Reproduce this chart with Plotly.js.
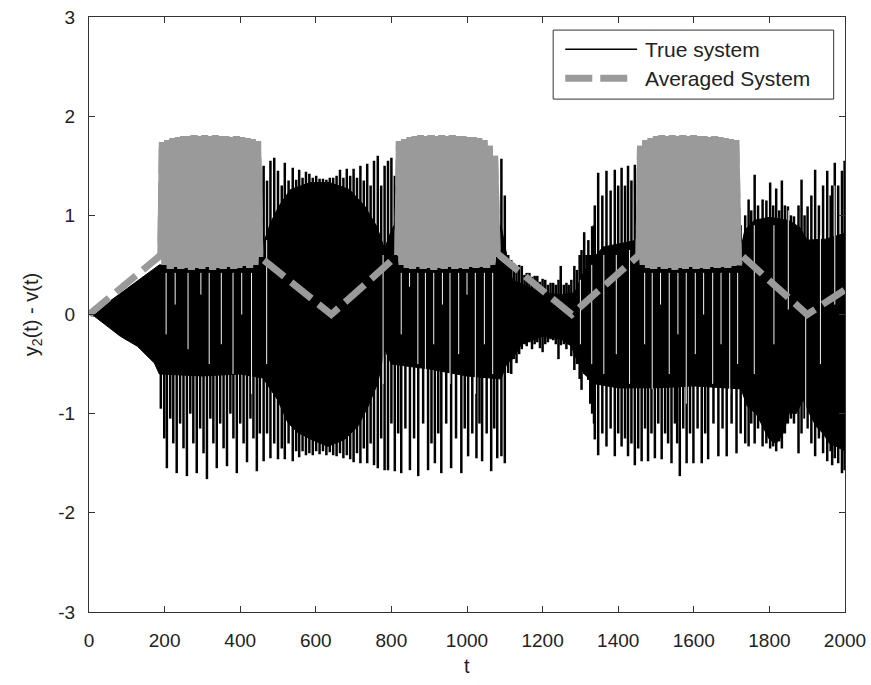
<!DOCTYPE html>
<html>
<head>
<meta charset="utf-8">
<script src="https://cdn.plot.ly/plotly-3.0.1.min.js"></script>
<style>
html,body{margin:0;padding:0;background:#fff;}
#chart{width:871px;height:685px;}
</style>
</head>
<body>
<div id="chart"></div>
<script>
// ---- True system: solid envelope of the dense oscillation ----
const coreHiT = [0,50,100,150,186,300,440,460,481,502,533,585,637,689,730,761,782,800,815,830,1075,1090,1105,1120,1160,1200,1250,1285,1305,1330,1360,1450,1470,1715,1735,1760,1800,1850,1880,1900,1950,2000];
const coreHiY = [0,0.12,0.26,0.4,0.5,0.5,0.5,0.7,0.93,1.09,1.26,1.33,1.33,1.26,1.09,0.89,0.66,0.85,0.95,0.5,0.5,0.9,0.6,0.35,0.28,0.22,0.2,0.22,0.4,0.55,0.68,0.75,0.5,0.5,0.85,0.95,0.98,0.95,0.88,0.75,0.76,0.82];
const coreLoT = [0,15,48,83,128,173,186,200,300,400,460,499,526,552,588,632,676,711,738,764,782,800,900,1000,1090,1105,1120,1144,1200,1250,1276,1290,1310,1340,1400,1500,1600,1725,1742,1765,1783,1800,1818,1836,1853,1871,1889,1906,1924,1942,1959,1977,2000];
const coreLoY = [0,-0.02,-0.12,-0.22,-0.32,-0.49,-0.6,-0.6,-0.62,-0.6,-0.64,-0.86,-1.09,-1.19,-1.26,-1.33,-1.26,-1.13,-0.93,-0.69,-0.35,-0.5,-0.55,-0.62,-0.65,-0.5,-0.45,-0.3,-0.22,-0.25,-0.32,-0.45,-0.6,-0.7,-0.74,-0.74,-0.72,-0.75,-0.93,-1.0,-1.13,-1.26,-1.3,-1.2,-0.99,-1.0,-0.86,-1.0,-1.13,-1.2,-1.3,-1.33,-1.38];

// ---- True system: individual oscillation spikes (t, lowest, highest) ----
const spikeT = [
 190,199,206,215,223,232,241,250,259,268,276,285,294,303,312,321,329,338,347,356,365,374,382,391,400,409,418,427,435,444,452,
 462,471,480,490,500,510,518,528,539,548,556,565,574,583,592,601,610,619,628,637,646,655,664,673,682,691,700,709,718,727,736,745,754,764,773,782,
 791,800,809,818,826,837,849,860,871,884,897,906,915,924,932,945,958,971,985,994,1003,1014,1025,1033,1040,1052,1064,1072,1080,1091,1100,
 1109,1117,1124,1131,1138,1145,1152,1158,1165,1172,1179,1186,1193,1200,1207,1214,1221,1228,1235,1242,1248,1256,1263,1269,1276,1284,1291,1298,1303,1310,1316,1321,1326,1331,1336,
 1338,1347,1358,1369,1380,1391,1400,1409,1418,1426,1435,1444,1453,
 1462,1471,1479,1488,1497,1506,1515,1524,1532,1541,1550,1556,1563,1572,1581,1590,1599,1610,1621,1630,1638,1652,1665,1676,1687,1700,1713,1724,1736,
 1745,1752,1761,1770,1782,1792,1802,1810,1818,1826,1833,1841,1849,1857,1865,1877,1885,1893,1901,1911,1921,1931,1942,1953,1962,1966,1973,1982,1992,1999];
const spikeLo = [
 -0.95,-1.25,-1.55,-1.05,-1.3,-1.6,-1.1,-1.35,-1.63,-1.0,-1.3,-1.6,-1.15,-1.4,-1.66,-1.05,-1.3,-1.55,-1.1,-1.35,-1.53,-1.0,-1.25,-1.6,-1.1,-1.3,-1.49,-1.05,-1.25,-1.58,-1.2,
 -1.48,-1.2,-1.45,-1.3,-1.46,-1.35,-1.46,-1.3,-1.48,-1.38,-1.44,-1.38,-1.42,-1.4,-1.42,-1.38,-1.41,-1.38,-1.42,-1.39,-1.42,-1.43,-1.4,-1.45,-1.42,-1.46,-1.49,-1.4,-1.5,-1.35,-1.5,-1.3,-1.52,-1.55,-1.25,-1.57,
 -1.57,-1.1,-1.58,-1.2,-1.6,-1.15,-1.57,-1.25,-1.63,-1.1,-1.57,-1.3,-1.5,-1.2,-1.6,-1.1,-1.55,-1.25,-1.6,-1.15,-1.43,-1.2,-1.45,-1.1,-1.48,-1.2,-1.58,-1.15,-1.45,-1.43,-1.5,
 -0.59,-0.6,-0.45,-0.49,-0.4,-0.35,-0.3,-0.32,-0.28,-0.35,-0.3,-0.28,-0.34,-0.38,-0.3,-0.28,-0.25,-0.26,-0.3,-0.45,-0.31,-0.3,-0.35,-0.3,-0.42,-0.56,-0.5,-0.65,-0.76,-0.6,-0.55,-0.66,-0.9,-1.0,-1.1,
 -1.26,-1.42,-1.2,-1.33,-1.15,-1.43,-1.2,-1.33,-1.25,-1.43,-1.3,-1.52,-1.35,
 -1.48,-1.15,-1.48,-1.2,-1.45,-1.1,-1.46,-1.2,-1.3,-1.5,-1.1,-1.3,-1.63,-1.15,-1.5,-1.2,-1.5,-1.15,-1.5,-1.2,-1.46,-1.1,-1.43,-1.15,-1.43,-1.1,-1.4,-1.2,-1.3,
 -1.33,-1.1,-1.3,-1.15,-1.33,-1.3,-1.35,-1.33,-1.38,-1.28,-1.35,-1.2,-1.1,-1.05,-1.1,-1.4,-1.2,-1.05,-1.15,-1.3,-1.43,-1.25,-1.4,-1.48,-1.38,-1.52,-1.45,-1.5,-1.6,-1.57];
const spikeHi = [
 0.5,0.5,0.5,0.5,0.5,0.5,0.5,0.5,0.5,0.5,0.5,0.5,0.5,0.5,0.5,0.5,0.5,0.5,0.5,0.5,0.5,0.5,0.5,0.5,0.5,0.5,0.5,0.5,0.5,1.2,1.46,
 1.5,1.35,1.55,1.58,1.45,1.3,1.53,1.35,1.48,1.36,1.46,1.38,1.44,1.42,1.38,1.4,1.37,1.37,1.36,1.38,1.38,1.4,1.46,1.38,1.47,1.4,1.47,1.38,1.5,1.35,1.52,1.3,1.55,1.6,1.3,1.5,
 1.55,1.58,1.4,0.5,0.5,0.5,0.5,0.5,0.5,0.5,0.5,0.5,0.5,0.5,0.5,0.5,0.5,0.5,0.5,0.5,0.5,0.5,0.5,0.5,0.5,0.5,0.5,0.5,0.8,1.57,1.2,
 0.6,0.55,0.52,0.45,0.5,0.49,0.4,0.42,0.42,0.38,0.39,0.39,0.33,0.36,0.35,0.3,0.32,0.32,0.3,0.35,0.49,0.3,0.32,0.3,0.35,0.49,0.45,0.6,0.65,0.83,0.6,0.75,0.6,0.89,0.9,
 1.1,1.43,1.2,1.45,1.25,1.46,1.3,1.48,1.3,1.5,1.35,1.51,1.45,
 0.5,0.5,0.5,0.5,0.5,0.5,0.5,0.5,0.5,0.5,0.5,0.5,0.5,0.5,0.5,0.5,0.5,0.5,0.5,0.5,0.5,0.5,0.5,0.5,0.5,0.5,0.5,0.9,1.0,
 1.16,1.05,1.41,1.1,1.16,1.15,1.33,1.1,1.27,1.05,1.35,1.1,1.09,1.0,0.99,1.1,1.36,1.0,1.09,1.2,1.46,1.1,1.3,1.45,1.2,1.3,1.53,1.3,1.45,1.55];

// ---- True system: thin light gaps between oscillation strokes (t, top, bottom) ----
const gapT   = [204,228,262,296,318,350,381,404,430, 470,778, 826,848,870,890,912,935,955,978,1000,1022,1046,1068, 1300,1330,1362,1395,1430, 1470,1490,1512,1535,1558,1580,1604,1626,1650,1672,1695,1716, 1760,1812,1850,1896,1935,1973];
const gapTop = [0.42,0.42,0.42,0.42,0.42,0.42,0.42,0.42,0.42, 0.75,0.6, 0.42,0.42,0.42,0.42,0.42,0.42,0.42,0.42,0.42,0.42,0.42,0.42, 0.35,0.5,0.6,0.6,0.65, 0.42,0.42,0.42,0.42,0.42,0.42,0.42,0.42,0.42,0.42,0.42,0.42, 0.9,0.9,1.05,0.0,0.8,1.3];
const gapBot = [-0.2,0.1,-0.35,0.2,-0.5,-0.3,-0.6,0.0,-0.8, -0.5,-0.7, -0.2,0.28,-0.5,-0.85,-0.3,0.1,-0.7,-0.4,0.2,-0.8,-0.3,-0.6, -0.3,-0.5,-0.6,-0.4,-0.7, -0.3,-0.75,0.1,-0.6,-0.2,-0.9,-0.4,0.0,-0.7,-0.3,-0.8,-0.5, -0.6,-0.3,0.05,-1.2,-0.5,0.1];

// ---- Averaged system ----
const avgT = [0,190,
 194,201,208,215,222,229,236,243,250,257,264,271,278,285,292,299,306,313,320,327,334,341,348,355,362,369,376,383,390,397,404,411,418,425,432,439,446,452,
 641,817,
 821,828,835,842,849,856,863,870,877,884,891,898,905,912,919,926,933,940,947,954,961,968,975,982,989,996,1003,1010,1017,1024,1031,1038,1045,1052,1059,1066,1073,1080,
 1085,1277,1455,
 1459,1466,1473,1480,1487,1494,1501,1508,1515,1522,1529,1536,1543,1550,1557,1564,1571,1578,1585,1592,1599,1606,1613,1620,1627,1634,1641,1648,1655,1662,1669,1676,1683,1690,1697,1704,1711,1718,1722,
 1725,1900,2000];
const avgY = [0,0.6,
 1.74,0.5,1.76,0.46,1.78,0.48,1.79,0.46,1.8,0.47,1.8,0.45,1.81,0.47,1.8,0.46,1.81,0.48,1.8,0.45,1.81,0.47,1.8,0.46,1.8,0.48,1.79,0.46,1.8,0.47,1.79,0.49,1.78,0.47,1.77,0.5,1.75,0.58,
 0,0.6,
 1.75,0.5,1.77,0.47,1.79,0.46,1.8,0.48,1.81,0.46,1.8,0.47,1.81,0.45,1.8,0.47,1.81,0.46,1.8,0.48,1.81,0.46,1.8,0.47,1.8,0.46,1.79,0.48,1.79,0.47,1.78,0.48,1.76,0.47,1.7,0.5,1.6,0.58,
 0.6,0,0.6,
 1.7,0.5,1.76,0.47,1.78,0.46,1.8,0.48,1.81,0.46,1.8,0.47,1.81,0.45,1.8,0.47,1.81,0.46,1.8,0.48,1.81,0.46,1.8,0.47,1.8,0.46,1.79,0.48,1.8,0.47,1.79,0.48,1.78,0.47,1.77,0.49,1.76,0.5,0.58,
 0.6,0,0.25];

// ---- axis ticks ----
const xTicks = [0,200,400,600,800,1000,1200,1400,1600,1800,2000];
const yTicks = [-3,-2,-1,0,1,2,3];

// polygon of the solid band
const bandX = coreHiT.concat(coreLoT.slice().reverse());
const bandY = coreHiY.concat(coreLoY.slice().reverse());
// spike and gap segments
function segs(ts, a, b) {
  const X = [], Y = [];
  for (let i = 0; i < ts.length; i++) { X.push(ts[i], ts[i], null); Y.push(a[i], b[i], null); }
  return {X, Y};
}
const sp = segs(spikeT, spikeLo, spikeHi);
const gp = segs(gapT, gapBot, gapTop);
// dense (oscillating) parts of the averaged curve are drawn solid
const avgDenseY = avgY.map((v, i) =>
  (v > 1 || (i > 0 && avgY[i-1] > 1) || (i < avgY.length-1 && avgY[i+1] > 1)) ? v : null);

const GRAY = '#9a9a9a';
const traces = [
  {x: bandX, y: bandY, mode: 'lines', fill: 'toself', fillcolor: '#000',
   line: {color: '#000', width: 1}, name: 'True system', showlegend: false, hoverinfo: 'skip'},
  {x: sp.X, y: sp.Y, mode: 'lines', line: {color: '#000', width: 2.5},
   name: 'True system', showlegend: false, hoverinfo: 'skip'},
  {x: gp.X, y: gp.Y, mode: 'lines', line: {color: '#f4f4f4', width: 1},
   name: 'True system', showlegend: false, hoverinfo: 'skip'},
  {x: avgT, y: avgY, mode: 'lines', line: {color: GRAY, width: 7, dash: '26px,9px'},
   name: 'Averaged System', showlegend: false},
  {x: avgT, y: avgDenseY, mode: 'lines', connectgaps: false, line: {color: GRAY, width: 7},
   name: 'Averaged System', showlegend: false}
];

const fontFam = 'Arial, "Liberation Sans", Helvetica, sans-serif';
const axisCommon = {
  showgrid: false, zeroline: false, showline: true, mirror: 'ticks',
  linecolor: '#333', linewidth: 1, ticks: 'inside', ticklen: 6, tickcolor: '#333',
  tickfont: {family: fontFam, size: 19, color: '#222'}
};

const layout = {
  width: 871, height: 685,
  margin: {l: 89, r: 26, t: 17, b: 73},
  paper_bgcolor: '#fff', plot_bgcolor: '#fff',
  showlegend: false,
  xaxis: Object.assign({}, axisCommon, {
    range: [0, 2000], tickvals: xTicks, ticktext: xTicks.map(String),
    ticklabelstandoff: 11
  }),
  yaxis: Object.assign({}, axisCommon, {
    range: [-3, 3], tickvals: yTicks, ticktext: yTicks.map(String),
    ticklabelstandoff: 9,
    title: {text: 'y<sub>2</sub>(t) - v(t)', font: {family: fontFam, size: 20, color: '#222'}, standoff: 14}
  }),
  shapes: [
    {type: 'rect', xref: 'paper', yref: 'paper', x0: 0.614, x1: 0.985, y0: 0.862, y1: 0.978,
     line: {color: '#333', width: 1}, fillcolor: '#fff'},
    {type: 'line', xref: 'paper', yref: 'paper', x0: 0.630, x1: 0.725, y0: 0.946, y1: 0.946,
     line: {color: '#000', width: 1.5}},
    {type: 'line', xref: 'paper', yref: 'paper', x0: 0.630, x1: 0.714, y0: 0.897, y1: 0.897,
     line: {color: GRAY, width: 7, dash: '27px,8px'}}
  ],
  annotations: [
    {xref: 'paper', yref: 'paper', x: 0.733, y: 0.946, xanchor: 'left', yanchor: 'middle',
     text: 'True system', showarrow: false, font: {family: fontFam, size: 21, color: '#222'}},
    {xref: 'paper', yref: 'paper', x: 0.733, y: 0.897, xanchor: 'left', yanchor: 'middle',
     text: 'Averaged System', showarrow: false, font: {family: fontFam, size: 21, color: '#222'}},
    {xref: 'paper', yref: 'paper', x: 0.5, y: -0.09, xanchor: 'center', yanchor: 'middle',
     text: 't', showarrow: false, font: {family: fontFam, size: 20, color: '#222'}}
  ]
};

Plotly.newPlot('chart', traces, layout, {displayModeBar: false, staticPlot: true});
</script>
</body>
</html>
